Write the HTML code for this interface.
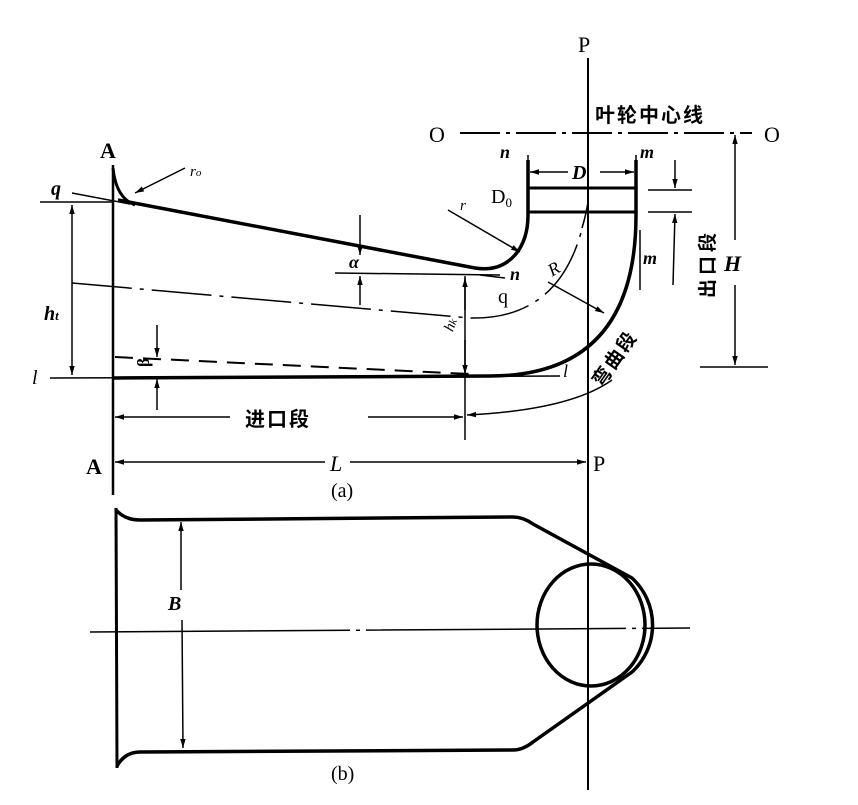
<!DOCTYPE html>
<html><head><meta charset="utf-8"><style>
html,body{margin:0;padding:0;background:#fff;}
svg{display:block}
text{font-family:"Liberation Serif","Noto Serif CJK SC",serif;fill:#000}
.cj{font-family:"Liberation Sans","Noto Sans CJK SC",sans-serif;font-weight:bold}
</style></head><body>
<svg width="858" height="805" viewBox="0 0 858 805" xmlns="http://www.w3.org/2000/svg">
<defs>
<marker id="ar" viewBox="0 0 10 10" refX="10" refY="5" markerWidth="9" markerHeight="9" orient="auto-start-reverse" markerUnits="userSpaceOnUse"><path d="M0,2 L10,5 L0,8 Z" fill="#000"/></marker>
</defs>
<g stroke="#000" fill="none">
<line x1="588" y1="58" x2="588" y2="790" stroke-width="2"/>
<line x1="460" y1="133" x2="752" y2="133" stroke-width="2" stroke-dasharray="40,6,4,6"/>
<line x1="113" y1="165" x2="113" y2="495" stroke-width="2.5"/>
<path d="M113,168 Q116,198 135,205" stroke-width="3"/>
<path d="M118,200 L475,268 Q500,272 515,255 Q528,240 528,215 L528,160" stroke-width="3.5"/>
<path d="M113,378 L490,376 Q636,376 636,215 L636,160" stroke-width="3.5"/>
<line x1="528" y1="188" x2="636" y2="188" stroke-width="3"/>
<line x1="528" y1="212" x2="636" y2="212" stroke-width="3"/>
<path d="M72,283 L470,318 Q560,320 583,225" stroke-width="1.5" stroke-dasharray="60,8,4,8"/>
<line x1="115" y1="357" x2="470" y2="374" stroke-width="2" stroke-dasharray="18,10"/>
<line x1="50" y1="378" x2="560" y2="376" stroke-width="1.5"/>
<line x1="40" y1="202" x2="112" y2="202" stroke-width="1.5"/>
<line x1="72" y1="193" x2="130" y2="204" stroke-width="1.5"/>
<line x1="335" y1="273" x2="500" y2="275" stroke-width="1.5"/>
<line x1="480" y1="275" x2="505" y2="278" stroke-width="1.5"/>
<line x1="72" y1="205" x2="72" y2="375" stroke-width="1.5" marker-start="url(#ar)" marker-end="url(#ar)"/>
<line x1="360" y1="215" x2="360" y2="255" stroke-width="1.5" marker-end="url(#ar)"/>
<line x1="360" y1="305" x2="360" y2="276" stroke-width="1.5" marker-end="url(#ar)"/>
<line x1="157" y1="325" x2="157" y2="357" stroke-width="1.5" marker-end="url(#ar)"/>
<line x1="157" y1="410" x2="157" y2="379" stroke-width="1.5" marker-end="url(#ar)"/>
<line x1="465" y1="276" x2="465" y2="440" stroke-width="1.5"/>
<line x1="465" y1="310" x2="465" y2="278" stroke-width="1.5" marker-end="url(#ar)"/>
<line x1="465" y1="340" x2="465" y2="374" stroke-width="1.5" marker-end="url(#ar)"/>
<line x1="230" y1="417" x2="115" y2="417" stroke-width="1.5" marker-end="url(#ar)"/>
<line x1="368" y1="417" x2="463" y2="417" stroke-width="1.5" marker-end="url(#ar)"/>
<path d="M467,415 Q570,410 612,380" stroke-width="1.5" marker-start="url(#ar)"/>
<line x1="325" y1="462" x2="115" y2="462" stroke-width="1.5" marker-end="url(#ar)"/>
<line x1="350" y1="462" x2="586" y2="462" stroke-width="1.5" marker-end="url(#ar)"/>
<line x1="185" y1="168" x2="135" y2="193" stroke-width="1.5" marker-end="url(#ar)"/>
<line x1="448" y1="210" x2="520" y2="252" stroke-width="1.5" marker-end="url(#ar)"/>
<line x1="548" y1="282" x2="604" y2="313" stroke-width="1.5" marker-end="url(#ar)"/>
<path d="M582,228 Q586,215 588,202" stroke-width="1.5"/>
<line x1="528" y1="155" x2="528" y2="188" stroke-width="1.5"/>
<line x1="636" y1="155" x2="636" y2="188" stroke-width="1.5"/>
<line x1="568" y1="172" x2="530" y2="172" stroke-width="1.5" marker-end="url(#ar)"/>
<line x1="600" y1="172" x2="634" y2="172" stroke-width="1.5" marker-end="url(#ar)"/>
<line x1="648" y1="190" x2="692" y2="190" stroke-width="1.5"/>
<line x1="648" y1="212" x2="692" y2="212" stroke-width="1.5"/>
<line x1="675" y1="160" x2="675" y2="188" stroke-width="1.5" marker-end="url(#ar)"/>
<line x1="673" y1="285" x2="675" y2="214" stroke-width="1.5" marker-end="url(#ar)"/>
<line x1="735" y1="135" x2="735" y2="240" stroke-width="1.5" marker-start="url(#ar)"/>
<line x1="735" y1="285" x2="735" y2="365" stroke-width="1.5" marker-end="url(#ar)"/>
<line x1="700" y1="367" x2="768" y2="367" stroke-width="1.5"/>
<line x1="640" y1="230" x2="640" y2="290" stroke-width="1.5"/>
<!-- (b) -->
<line x1="116" y1="508" x2="117" y2="768" stroke-width="3"/>
<path d="M116,510 Q125,520 140,520 L513,517 Q523,517 533,524 L632,578 A64,64 0 0 1 632,672 L533,742 Q523,750 513,750 L140,752 Q125,752 117,766" stroke-width="3.5"/>
<ellipse cx="591" cy="625" rx="54" ry="61" stroke-width="3.5"/>
<line x1="90" y1="632" x2="690" y2="628" stroke-width="1.5" stroke-dasharray="260,6,4,6"/>
<line x1="181" y1="522" x2="181" y2="590" stroke-width="1.5" marker-start="url(#ar)"/>
<line x1="182" y1="620" x2="183" y2="748" stroke-width="1.5" marker-end="url(#ar)"/>
</g>
<text x="429" y="142" font-size="22">O</text>
<text x="764" y="142" font-size="22">O</text>
<text x="578" y="52" font-size="22">P</text>
<text x="593" y="471" font-size="22">P</text>
<text x="100" y="158" font-size="22" font-weight="bold">A</text>
<text x="86" y="474" font-size="22" font-weight="bold">A</text>
<text x="330" y="471" font-size="22" font-style="italic">L</text>
<text x="331" y="497" font-size="20">(a)</text>
<text x="331" y="780" font-size="20">(b)</text>
<text x="168" y="610" font-size="20" font-style="italic" font-weight="bold">B</text>
<text x="51" y="195" font-size="20" font-style="italic" font-weight="bold">q</text>
<text x="32" y="384" font-size="20" font-style="italic">l</text>
<text x="44" y="320" font-size="20" font-style="italic" font-weight="bold">h<tspan font-size="13">t</tspan></text>
<text x="190" y="176" font-size="15" font-style="italic">r<tspan font-size="11">o</tspan></text>
<text x="349" y="268" font-size="18" font-style="italic" font-weight="bold">α</text>
<text x="133" y="365" font-size="17" font-weight="bold" transform="rotate(-90 142 358)">β</text>
<text x="500" y="158" font-size="18" font-style="italic" font-weight="bold">n</text>
<text x="640" y="158" font-size="18" font-style="italic" font-weight="bold">m</text>
<text x="572" y="179" font-size="20" font-style="italic" font-weight="bold">D</text>
<text x="491" y="203" font-size="20">D<tspan font-size="13" dy="4">0</tspan></text>
<text x="460" y="210" font-size="15" font-style="italic">r</text>
<text x="510" y="280" font-size="18" font-style="italic" font-weight="bold">n</text>
<text x="643" y="264" font-size="18" font-style="italic" font-weight="bold">m</text>
<text x="498" y="303" font-size="20">q</text>
<text x="548" y="274" font-size="18" font-style="italic" transform="rotate(-30 555 268)">R</text>
<text x="563" y="377" font-size="18" font-style="italic">l</text>
<text x="440" y="330" font-size="15" font-style="italic" transform="rotate(-70 448 322)">h<tspan font-size="11">k</tspan></text>
<text x="724" y="271" font-size="22" font-style="italic" font-weight="bold">H</text>
<text class="cj" x="595" y="122" font-size="20" letter-spacing="2">叶轮中心线</text>
<text class="cj" x="245" y="426" font-size="20" letter-spacing="2">进口段</text>
<text class="cj" font-size="19" transform="translate(714,298) rotate(-90)" letter-spacing="4">出口段</text>
<text class="cj" font-size="19" transform="translate(602,388) rotate(-55)" letter-spacing="2">弯曲段</text>
</svg>
</body></html>
